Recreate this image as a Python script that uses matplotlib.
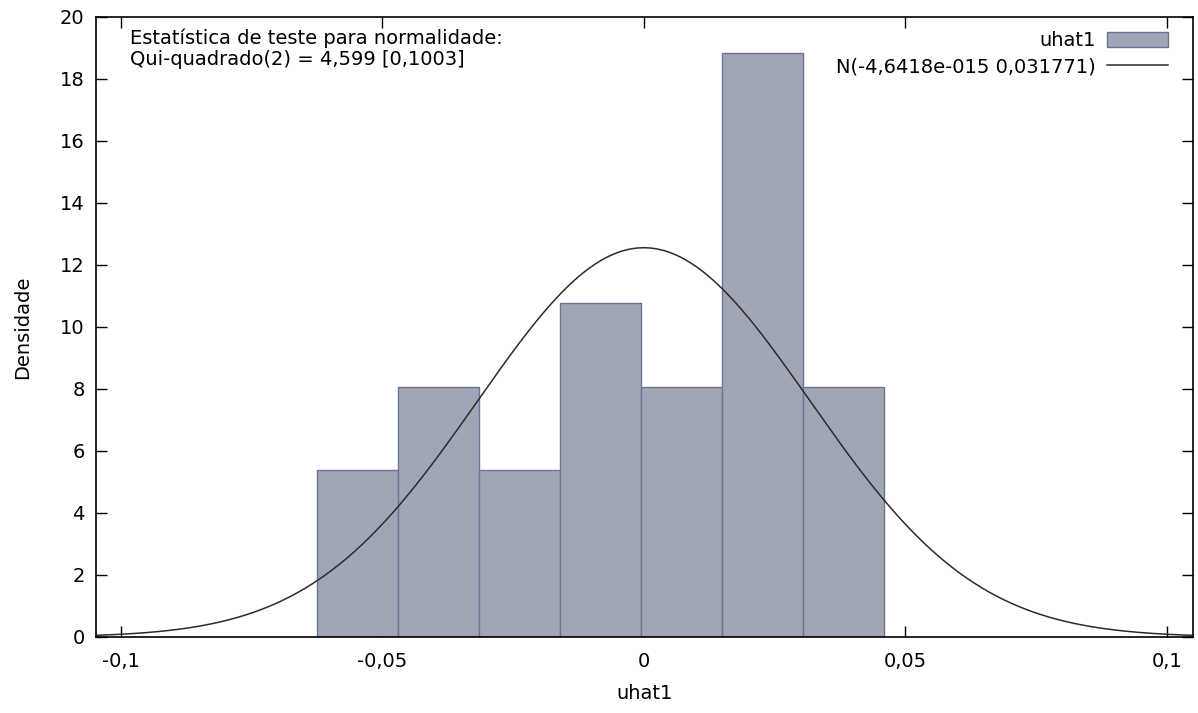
#!/usr/bin/env python3
"""gretl-style residual histogram with the fitted normal density."""

import matplotlib
matplotlib.use("Agg")
import matplotlib.pyplot as plt
import numpy as np

# histogram of uhat1 (density scale)
BIN_EDGES = [-0.0625, -0.0470, -0.0315, -0.0160, -0.0005, 0.0150, 0.0305, 0.0460]
DENSITY = [5.38, 8.07, 5.38, 10.76, 8.07, 18.83, 8.07]

# normal curve parameters from the legend
NORM_MEAN = -4.6418e-15
NORM_SD = 0.031771

X_TICKS = [-0.1, -0.05, 0, 0.05, 0.1]
X_TICK_LABELS = ["-0,1", "-0,05", "0", "0,05", "0,1"]
Y_TICKS = [0, 2, 4, 6, 8, 10, 12, 14, 16, 18, 20]

BAR_FILL = "#a0a6b5"
BAR_EDGE = "#6b7591"
FS = 14

plt.rcParams["font.family"] = ["DejaVu Sans"]

fig = plt.figure(figsize=(11.98, 7.13), dpi=100)
ax = fig.add_axes([95.7 / 1198, 1 - 637 / 713, (1193 - 95.7) / 1198, (637 - 17) / 713])

widths = np.diff(BIN_EDGES)
bars = ax.bar(BIN_EDGES[:-1], DENSITY, width=widths, align="edge",
              color=BAR_FILL, edgecolor=BAR_EDGE, linewidth=1.0, label="uhat1", zorder=2)

xs = np.linspace(-0.105, 0.105, 600)
pdf = np.exp(-0.5 * ((xs - NORM_MEAN) / NORM_SD) ** 2) / (NORM_SD * np.sqrt(2 * np.pi))
(curve,) = ax.plot(xs, pdf, color="#2b2b2b", linewidth=1.1,
                   label="N(-4,6418e-015 0,031771)", zorder=3)

ax.set_xlim(-0.1048, 0.1050)
ax.set_ylim(0, 20)
ax.set_xticks(X_TICKS)
ax.set_xticklabels(X_TICK_LABELS)
ax.set_yticks(Y_TICKS)
ax.tick_params(direction="in", length=8, width=1, top=True, right=True,
               labelsize=FS, pad=11)
ax.tick_params(axis="y", pad=8)
for s in ax.spines.values():
    s.set_linewidth(1.2)

ax.set_xlabel("uhat1", fontsize=FS, labelpad=9)
ax.set_ylabel("Densidade", fontsize=FS, labelpad=20)

ax.text(0.031, 0.981,
        "Estatística de teste para normalidade:\nQui-quadrado(2) = 4,599 [0,1003]",
        transform=ax.transAxes, ha="left", va="top", fontsize=FS, linespacing=1.12)

leg = ax.legend([bars, curve], ["uhat1", "N(-4,6418e-015 0,031771)"],
                loc="upper right", bbox_to_anchor=(0.977, 0.977),
                frameon=False, markerfirst=False,
                fontsize=FS, handlelength=3.1, handleheight=0.75,
                handletextpad=0.6, borderaxespad=0.0, borderpad=0.0,
                labelspacing=0.35)
for t in leg.get_texts():
    t.set_ha("right")

fig.savefig("out.png", dpi=100, facecolor="white")
